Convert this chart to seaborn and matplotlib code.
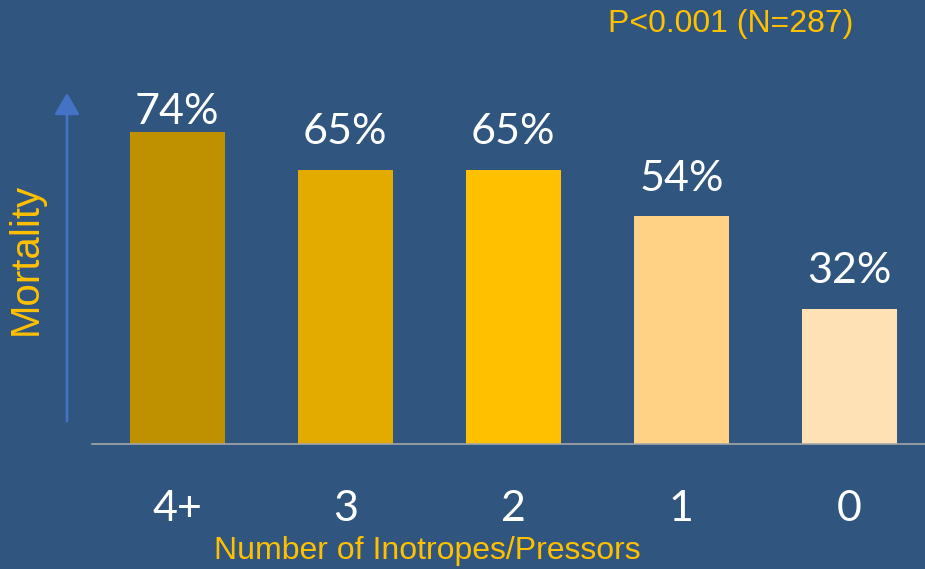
import matplotlib
matplotlib.use("Agg")
import matplotlib.pyplot as plt
import pandas as pd
import seaborn as sns

# chart data
categories = ["4+", "3", "2", "1", "0"]
mortality = [74, 65, 65, 54, 32]
bar_colors = ["#BF9000", "#E3AB00", "#FFC000", "#FFD285", "#FFE1B6"]

bg = "#30557F"
yellow = "#FFC000"

df = pd.DataFrame({"Inotropes": categories, "Mortality": mortality})

sns.set_theme(style="white")
plt.rcParams["font.family"] = ["Lato", "DejaVu Sans"]

fig = plt.figure(figsize=(9.25, 5.69), dpi=100, facecolor=bg)
W, H = 925, 569
# axes placed in pixel terms: baseline at y=444, top at y=22
ax = fig.add_axes([92 / W, (H - 444) / H, 833 / W, 422 / H])
ax.set_facecolor(bg)

sns.barplot(data=df, x="Inotropes", y="Mortality", hue="Inotropes",
            palette=bar_colors, order=categories, hue_order=categories,
            width=0.565, legend=False, ax=ax, saturation=1, linewidth=0)

ax.set_xlim(-0.506, 4.449)
ax.set_ylim(0, 100)

# value labels above bars (top one squeezed under the plot top)
for i, v in enumerate(mortality):
    ax.text(i, min(v + 4.4, 74.2), f"{v}%", ha="center", va="bottom",
            color="white", fontsize=31)

for side in ["top", "right", "left"]:
    ax.spines[side].set_visible(False)
ax.spines["bottom"].set_color("#A6A6A6")
ax.spines["bottom"].set_linewidth(1.2)
ax.set_yticks([])
ax.tick_params(axis="x", length=0, pad=33, labelsize=31, labelcolor="white")
ax.set_xlabel("")
ax.set_ylabel("")

# axis titles and note
fig.text(427 / W, 1 - 551 / H, "Number of Inotropes/Pressors", ha="center",
         va="center", color=yellow, fontsize=23, family=["Liberation Sans", "DejaVu Sans"])
fig.text(26 / W, 1 - 259 / H, "Mortality", ha="center", va="center",
         rotation=90, color=yellow, fontsize=29, family=["Liberation Sans", "DejaVu Sans"])
fig.text(731 / W, 1 - 24 / H, "P<0.001 (N=287)", ha="center", va="center",
         color=yellow, fontsize=23, family=["Liberation Sans", "DejaVu Sans"])

# upward arrow beside the bars
fig.add_artist(matplotlib.patches.FancyArrowPatch(
    (67 / W, 1 - 424 / H), (67 / W, 1 - 90 / H), transform=fig.transFigure,
    arrowstyle="-|>,head_length=0.6,head_width=0.35", mutation_scale=22,
    color="#4472C4", lw=2))

fig.savefig("out.png", dpi=100, facecolor=bg)
